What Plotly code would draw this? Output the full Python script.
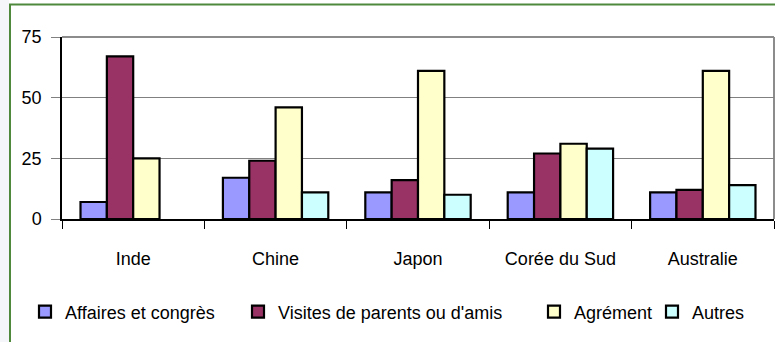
import plotly.graph_objects as go

# Pays de provenance et motifs de séjour (%)
pays = ["Inde", "Chine", "Japon", "Corée du Sud", "Australie"]
affaires = [7, 17, 11, 11, 11]
visites = [67, 24, 16, 27, 12]
agrement = [25, 46, 61, 31, 61]
autres = [None, 11, 10, 29, 14]

noms = ["Affaires et congrès", "Visites de parents ou d'amis", "Agrément", "Autres"]
couleurs = ["#9999FF", "#993366", "#FFFFCC", "#CCFFFF"]
series = [affaires, visites, agrement, autres]

W, H = 775, 342
L, R, T, B = 62, 1, 37, 123
FONT = "Liberation Sans, Arial, sans-serif"
TAILLE = 18

# horizontal position (px) of each legend entry
legende_x = [25, 238, 534, 652]
legende_y = 312

fig = go.Figure()
for i, (nom, coul, vals) in enumerate(zip(noms, couleurs, series)):
    lg = "legend" if i == 0 else f"legend{i + 1}"
    fig.add_trace(go.Bar(
        x=pays, y=vals, name=nom,
        marker=dict(color=coul, line=dict(color="#000000", width=2.2)),
        legend=lg,
    ))

legend_common = dict(
    orientation="h", xref="container", yref="container",
    xanchor="left", yanchor="middle",
    font=dict(family=FONT, size=TAILLE, color="#000000"),
    bgcolor="rgba(0,0,0,0)", itemwidth=30,
)
for i, px in enumerate(legende_x):
    key = "legend" if i == 0 else f"legend{i + 1}"
    fig.layout[key] = dict(legend_common, x=px / W, y=1 - legende_y / H)

pw = W - L - R
ph = H - T - B

fig.update_layout(
    width=W, height=H,
    margin=dict(l=L, r=R, t=T, b=B, autoexpand=False),
    paper_bgcolor="#FFFFFF", plot_bgcolor="#FFFFFF",
    barmode="group", bargap=0.26, bargroupgap=0,
    showlegend=True,
    font=dict(family=FONT, size=TAILLE, color="#000000"),
    xaxis=dict(
        tickson="boundaries", ticks="outside", ticklen=8, tickwidth=1.2,
        tickcolor="#000000", showline=True, linecolor="#000000", linewidth=2,
        showgrid=False, ticklabelstandoff=22,
        tickfont=dict(family=FONT, size=TAILLE),
    ),
    yaxis=dict(
        range=[0, 75], tickvals=[0, 25, 50, 75], ticks="outside", ticklen=9,
        tickcolor="#808080", tickwidth=1, showline=True, linecolor="#000000",
        linewidth=1.5, showgrid=True, gridcolor="#808080", gridwidth=1,
        zeroline=False, ticklabelstandoff=6,
        tickfont=dict(family=FONT, size=TAILLE),
    ),
    shapes=[
        # light strip at the left of the frame
        dict(type="rect", xref="paper", yref="paper", layer="below",
             x0=(-2 - L) / pw, x1=(9 - L) / pw,
             y0=(T + ph + 5 - H) / ph - 0.2, y1=(T + ph + 2) / ph,
             fillcolor="#F4F6FA", line=dict(width=0)),
        # green chart frame
        dict(type="rect", xref="paper", yref="paper", layer="above",
             x0=(10 - L) / pw, x1=(W + 20 - L) / pw,
             y0=(T + ph - H - 20) / ph, y1=(T + ph - 4.5) / ph,
             fillcolor="rgba(0,0,0,0)", line=dict(color="#4F8A3C", width=2)),
        # grey border of the plot area (top and right)
        dict(type="line", xref="paper", yref="paper", layer="below",
             x0=0, x1=1, y0=1, y1=1, line=dict(color="#8C8C8C", width=2)),
        dict(type="line", xref="paper", yref="paper", layer="below",
             x0=1, x1=1, y0=0, y1=1, line=dict(color="#8C8C8C", width=2)),
    ],
)

fig.write_html("out.html")
